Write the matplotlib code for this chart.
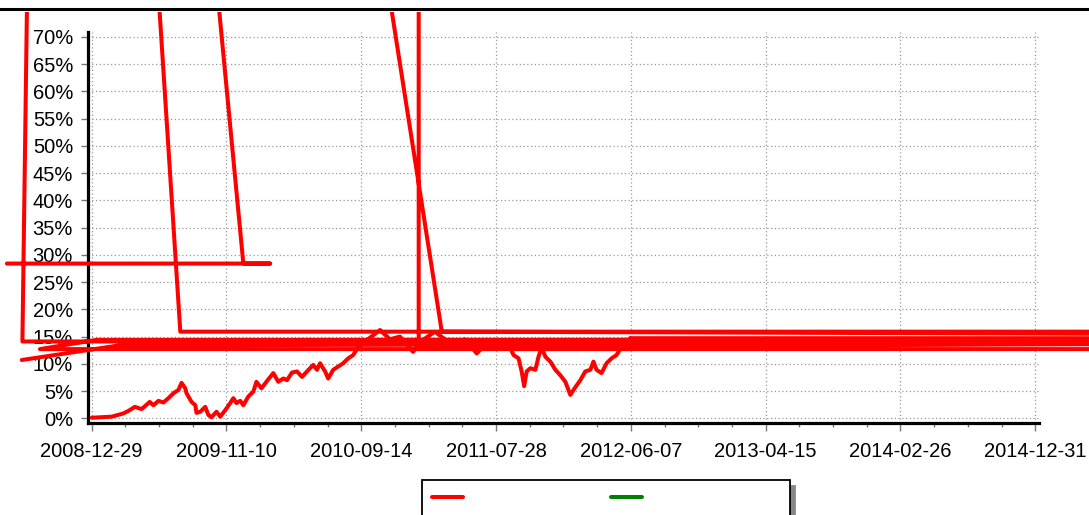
import numpy as np
import matplotlib
matplotlib.use('Agg')
import matplotlib.pyplot as plt
from matplotlib.lines import Line2D
from matplotlib.transforms import Bbox, TransformedBbox

plt.rcParams['font.family'] = ['Liberation Sans', 'DejaVu Sans']

# x axis is a trading-day index, tick labels every 216 points
tick_pos = [0, 216, 432, 648, 864, 1080, 1296, 1512]
tick_labels = ['2008-12-29', '2009-11-10', '2010-09-14', '2011-07-28',
               '2012-06-07', '2013-04-15', '2014-02-26', '2014-12-31']

# main cumulative return curve (%)
curve_x = [0, 32, 51, 61, 69, 80, 93, 99, 107, 115, 123, 131, 139, 144, 150, 152,
           160, 166, 168, 174, 182, 187, 192, 200, 206, 214, 222, 227, 232, 238,
           243, 251, 259, 264, 272, 280, 291, 299, 307, 313, 321, 329, 337, 345,
           355, 361, 366, 374, 379, 387, 395, 403, 411, 419, 427, 435, 446, 462,
           478, 494, 515, 526, 550, 566, 579, 598, 617, 633, 654, 670, 676, 684,
           689, 693, 697, 703, 711, 716, 721, 727, 735, 743, 751, 759, 767, 775,
           783, 791, 799, 804, 809, 817, 825, 833, 841, 849, 857, 863]
curve_y = [0.1, 0.3, 0.9, 1.5, 2.1, 1.7, 3.0, 2.4, 3.2, 2.9, 3.7, 4.6, 5.2, 6.5, 5.5, 4.6,
           3.0, 2.4, 1.0, 1.2, 2.1, 0.6, 0.2, 1.2, 0.3, 1.5, 2.8, 3.7, 2.8, 3.2,
           2.4, 4.0, 4.9, 6.7, 5.5, 6.7, 8.3, 6.7, 7.3, 7.0, 8.4, 8.6, 7.6, 8.6,
           9.8, 8.9, 10.1, 8.6, 7.3, 8.9, 9.5, 10.1, 11.0, 11.6, 13.1, 13.8, 14.8, 16.2,
           14.5, 15.0, 12.2, 14.0, 15.9, 14.5, 13.8, 14.5, 11.9, 13.8, 13.8, 13.1, 11.6, 11.0,
           8.6, 5.9, 8.6, 9.2, 8.9, 11.3, 13.0, 11.3, 10.4, 8.9, 7.9, 6.7, 4.3, 5.7,
           7.0, 8.6, 8.9, 10.4, 8.9, 8.3, 10.1, 11.0, 11.6, 13.1, 14.1, 14.7]

# broken points (unsorted dates / bad values), NaN separates the pieces
glitch_x = [863, 2500, np.nan,
            2500, 142, 38, np.nan,
            310, 561, 2500, np.nan,
            524, 524, 2500, np.nan,
            -89, -111, 2500, np.nan,
            100, 243, 286, -136, np.nan,
            2500, -83, 8, 2500, np.nan,
            -112, 45, 2500]
glitch_y = [14.7, 14.7, np.nan,
            15.9, 15.9, 200, np.nan,
            200, 15.9, 15.2, np.nan,
            200, 13.1, 14.0, np.nan,
            200, 14.1, 14.2, np.nan,
            200, 28.4, 28.4, 28.4, np.nan,
            12.7, 12.7, 14.4, 14.5, np.nan,
            10.7, 13.4, 13.9]

fig = plt.figure(figsize=(10.89, 5.15), dpi=100)
ax = fig.add_axes([0.0811, 0.1792, 0.9541 - 0.0811, 0.9379 - 0.1792])

ax.set_xlim(-5.4, 1518)
ax.set_ylim(-0.81, 70.9)

ax.set_xticks(tick_pos)
ax.set_xticklabels(tick_labels)
ax.set_xticks(np.arange(0, 1513, 54), minor=True)
ax.set_yticks(np.arange(0, 71, 5))
ax.set_yticklabels([f'{v}%' for v in range(0, 71, 5)])

ax.tick_params(axis='both', which='major', labelsize=14.5, colors='#777777',
               labelcolor='black', width=1)
ax.tick_params(axis='x', which='major', length=6, pad=8)
ax.tick_params(axis='x', which='minor', length=3, color='#777777', width=1)
ax.tick_params(axis='y', which='major', length=5, pad=6)

for s in ['top', 'right']:
    ax.spines[s].set_visible(False)
for s in ['left', 'bottom']:
    ax.spines[s].set_linewidth(2.3)
    ax.spines[s].set_color('black')

ax.grid(True, which='major', color='#999999', linestyle=(0, (1, 2)), linewidth=0.9)
ax.set_axisbelow(True)

clip = TransformedBbox(Bbox([[0, 0], [1, 1 - 12 / 515]]), fig.transFigure)
for xs, ys in [(curve_x, curve_y), (glitch_x, glitch_y)]:
    ln, = ax.plot(xs, ys, color='#ff0000', lw=2.9, solid_capstyle='round',
                  solid_joinstyle='round', zorder=3)
    ln.set_clip_box(clip)

# top border bar
fig.add_artist(Line2D([0, 1], [1 - 8.5 / 515, 1 - 8.5 / 515], color='black', lw=2.2,
                      transform=fig.transFigure))

handles = [Line2D([], [], color='#ff0000', lw=2.9, solid_capstyle='round'),
           Line2D([], [], color='#008000', lw=2.9, solid_capstyle='round')]
leg = fig.legend(handles, ['', ''], loc='upper left',
                 bbox_to_anchor=(421.7 / 1089, 1 - 480 / 515), borderaxespad=0,
                 ncol=2, fontsize=14, fancybox=False, framealpha=1,
                 edgecolor='black', handlelength=1.6, handletextpad=7.1,
                 columnspacing=0.5, borderpad=0.51,
                 shadow={'ox': 3.6, 'oy': -4.3, 'color': '#888888', 'alpha': 1})
leg.get_frame().set_linewidth(1.3)

fig.savefig('out.png', dpi=100)
